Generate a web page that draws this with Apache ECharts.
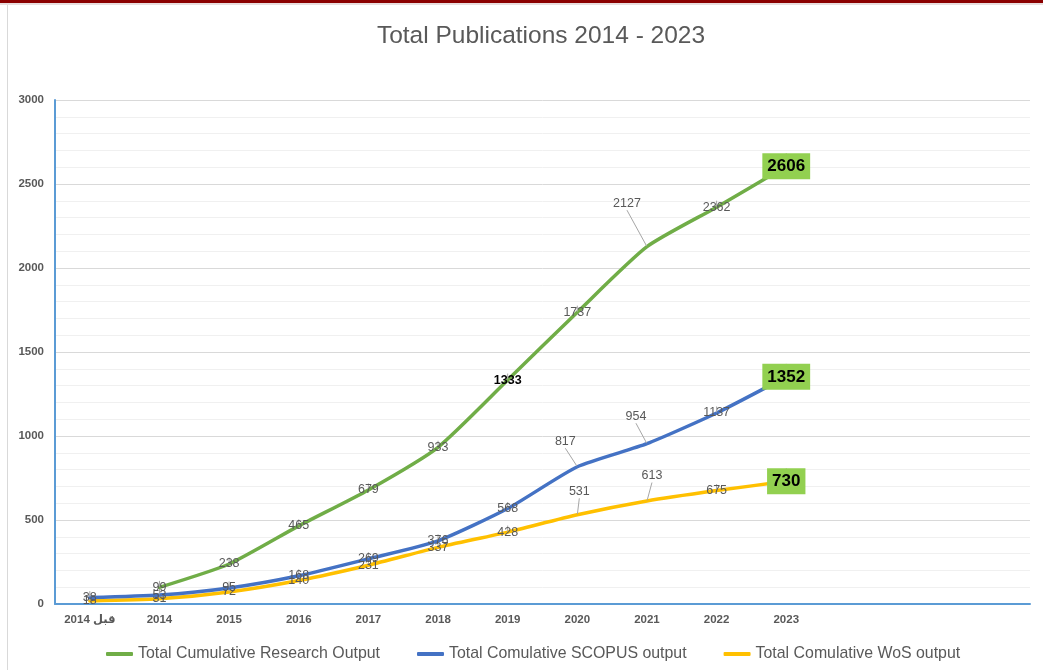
<!DOCTYPE html>
<html>
<head>
<meta charset="utf-8">
<script src="https://cdn.jsdelivr.net/npm/echarts@6/dist/echarts.min.js"></script>
<style>
html,body{margin:0;padding:0;background:#fff;}
#chart{width:1043px;height:670px;}
</style>
</head>
<body>
<div id="chart"></div>
<script>
// ---- data ----
var categories = ['قبل 2014', '2014', '2015', '2016', '2017', '2018', '2019', '2020', '2021', '2022', '2023', '', '', ''];
var researchOutput = [null, 99, 238, 465, 679, 933, 1333, 1737, 2127, 2362, 2606];
var scopusOutput = [38, 53, 95, 168, 269, 376, 568, 817, 954, 1137, 1352];
var wosOutput = [18, 31, 72, 140, 231, 337, 428, 531, 613, 675, 730];
var seriesNames = ['Total Cumulative Research Output', 'Total Comulative SCOPUS output', 'Total Comulative WoS output'];
var yTicks = [0, 500, 1000, 1500, 2000, 2500, 3000];

// ---- styling / layout ----
var FONT = "'Liberation Sans', 'DejaVu Sans', sans-serif";
var TEXT = '#595959';
var colors = ['#70ad47', '#4472c4', '#ffc000'];
// label shifts (with leader lines) per series -> dataIndex -> [dx, dy]
var labelShift = {
  0: {8: [-20, -43]},
  1: {7: [-12, -25], 8: [-11, -27]},
  2: {7: [2, -23], 8: [5, -25]}
};
var endLabel = {
  show: true, position: 'inside', backgroundColor: '#92d050', color: '#000',
  fontSize: 17, fontWeight: 'bold', fontFamily: FONT, padding: [5, 5, 4, 5]
};

function buildData(arr, seriesIdx) {
  var last = arr.length - 1;
  return arr.map(function (v, i) {
    if (v === null) return null;
    var item = {value: v};
    if (i === last) item.label = endLabel;
    if (seriesIdx === 0 && i === 6) item.label = {fontWeight: 'bold', color: '#000'};
    return item;
  });
}

function makeSeries(idx, arr) {
  return {
    name: seriesNames[idx],
    type: 'line',
    data: buildData(arr, idx),
    smooth: 0.2,
    symbol: 'circle',
    symbolSize: 1,
    showSymbol: true,
    lineStyle: {width: 3.5, color: colors[idx], cap: 'round', join: 'round'},
    itemStyle: {color: colors[idx]},
    label: {show: true, position: 'inside', color: TEXT, fontSize: 12.5, fontFamily: FONT},
    labelLine: {show: true, lineStyle: {color: '#a6a6a6', width: 1}},
    labelLayout: function (p) {
      var s = labelShift[idx] && labelShift[idx][p.dataIndex];
      if (s) return {dx: s[0], dy: s[1]};
      return {};
    },
    emphasis: {disabled: true},
    z: 3 - idx
  };
}

var chart = echarts.init(document.getElementById('chart'), null, {renderer: 'canvas'});
chart.setOption({
  animation: false,
  backgroundColor: '#fff',
  color: colors,
  title: {
    text: 'Total Publications 2014 - 2023',
    left: 536, textAlign: 'center', top: 19,
    textStyle: {fontFamily: FONT, fontSize: 24.5, fontWeight: 'normal', color: TEXT}
  },
  graphic: [
    {type: 'rect', left: 0, top: 0, shape: {width: 1043, height: 3}, style: {fill: '#8b0000'}},
    {type: 'rect', left: 0, top: 3, shape: {width: 1043, height: 2}, style: {fill: '#e8dede'}},
    {type: 'rect', left: 7, top: 5, shape: {width: 1, height: 665}, style: {fill: '#d9d9d9'}}
  ],
  legend: {
    bottom: 3, left: 101,
    itemWidth: 27, itemHeight: 4, itemGap: 37,
    icon: 'roundRect',
    textStyle: {fontFamily: FONT, fontSize: 15.9, color: TEXT},
    data: seriesNames
  },
  grid: {left: 55, right: 13, top: 100, bottom: 66, containLabel: false},
  xAxis: {
    type: 'category', data: categories, boundaryGap: true,
    axisLine: {show: true, lineStyle: {color: '#5b9bd5', width: 2}},
    axisTick: {show: false},
    axisLabel: {color: TEXT, fontSize: 11.5, fontWeight: 'bold', fontFamily: FONT, margin: 10, interval: 0},
    splitLine: {show: false}
  },
  yAxis: {
    type: 'value', min: yTicks[0], max: yTicks[yTicks.length - 1], interval: 500,
    axisLine: {show: true, lineStyle: {color: '#5b9bd5', width: 2}},
    axisTick: {show: false},
    axisLabel: {color: TEXT, fontSize: 11.5, fontWeight: 'bold', fontFamily: FONT, margin: 11,
      formatter: function (v) { return String(v); }},
    splitLine: {show: true, lineStyle: {color: '#d9d9d9', width: 1}},
    minorTick: {show: false, splitNumber: 5},
    minorSplitLine: {show: true, lineStyle: {color: '#f0f0f0', width: 1}}
  },
  series: [
    makeSeries(0, researchOutput),
    makeSeries(1, scopusOutput),
    makeSeries(2, wosOutput)
  ]
});
</script>
</body>
</html>
